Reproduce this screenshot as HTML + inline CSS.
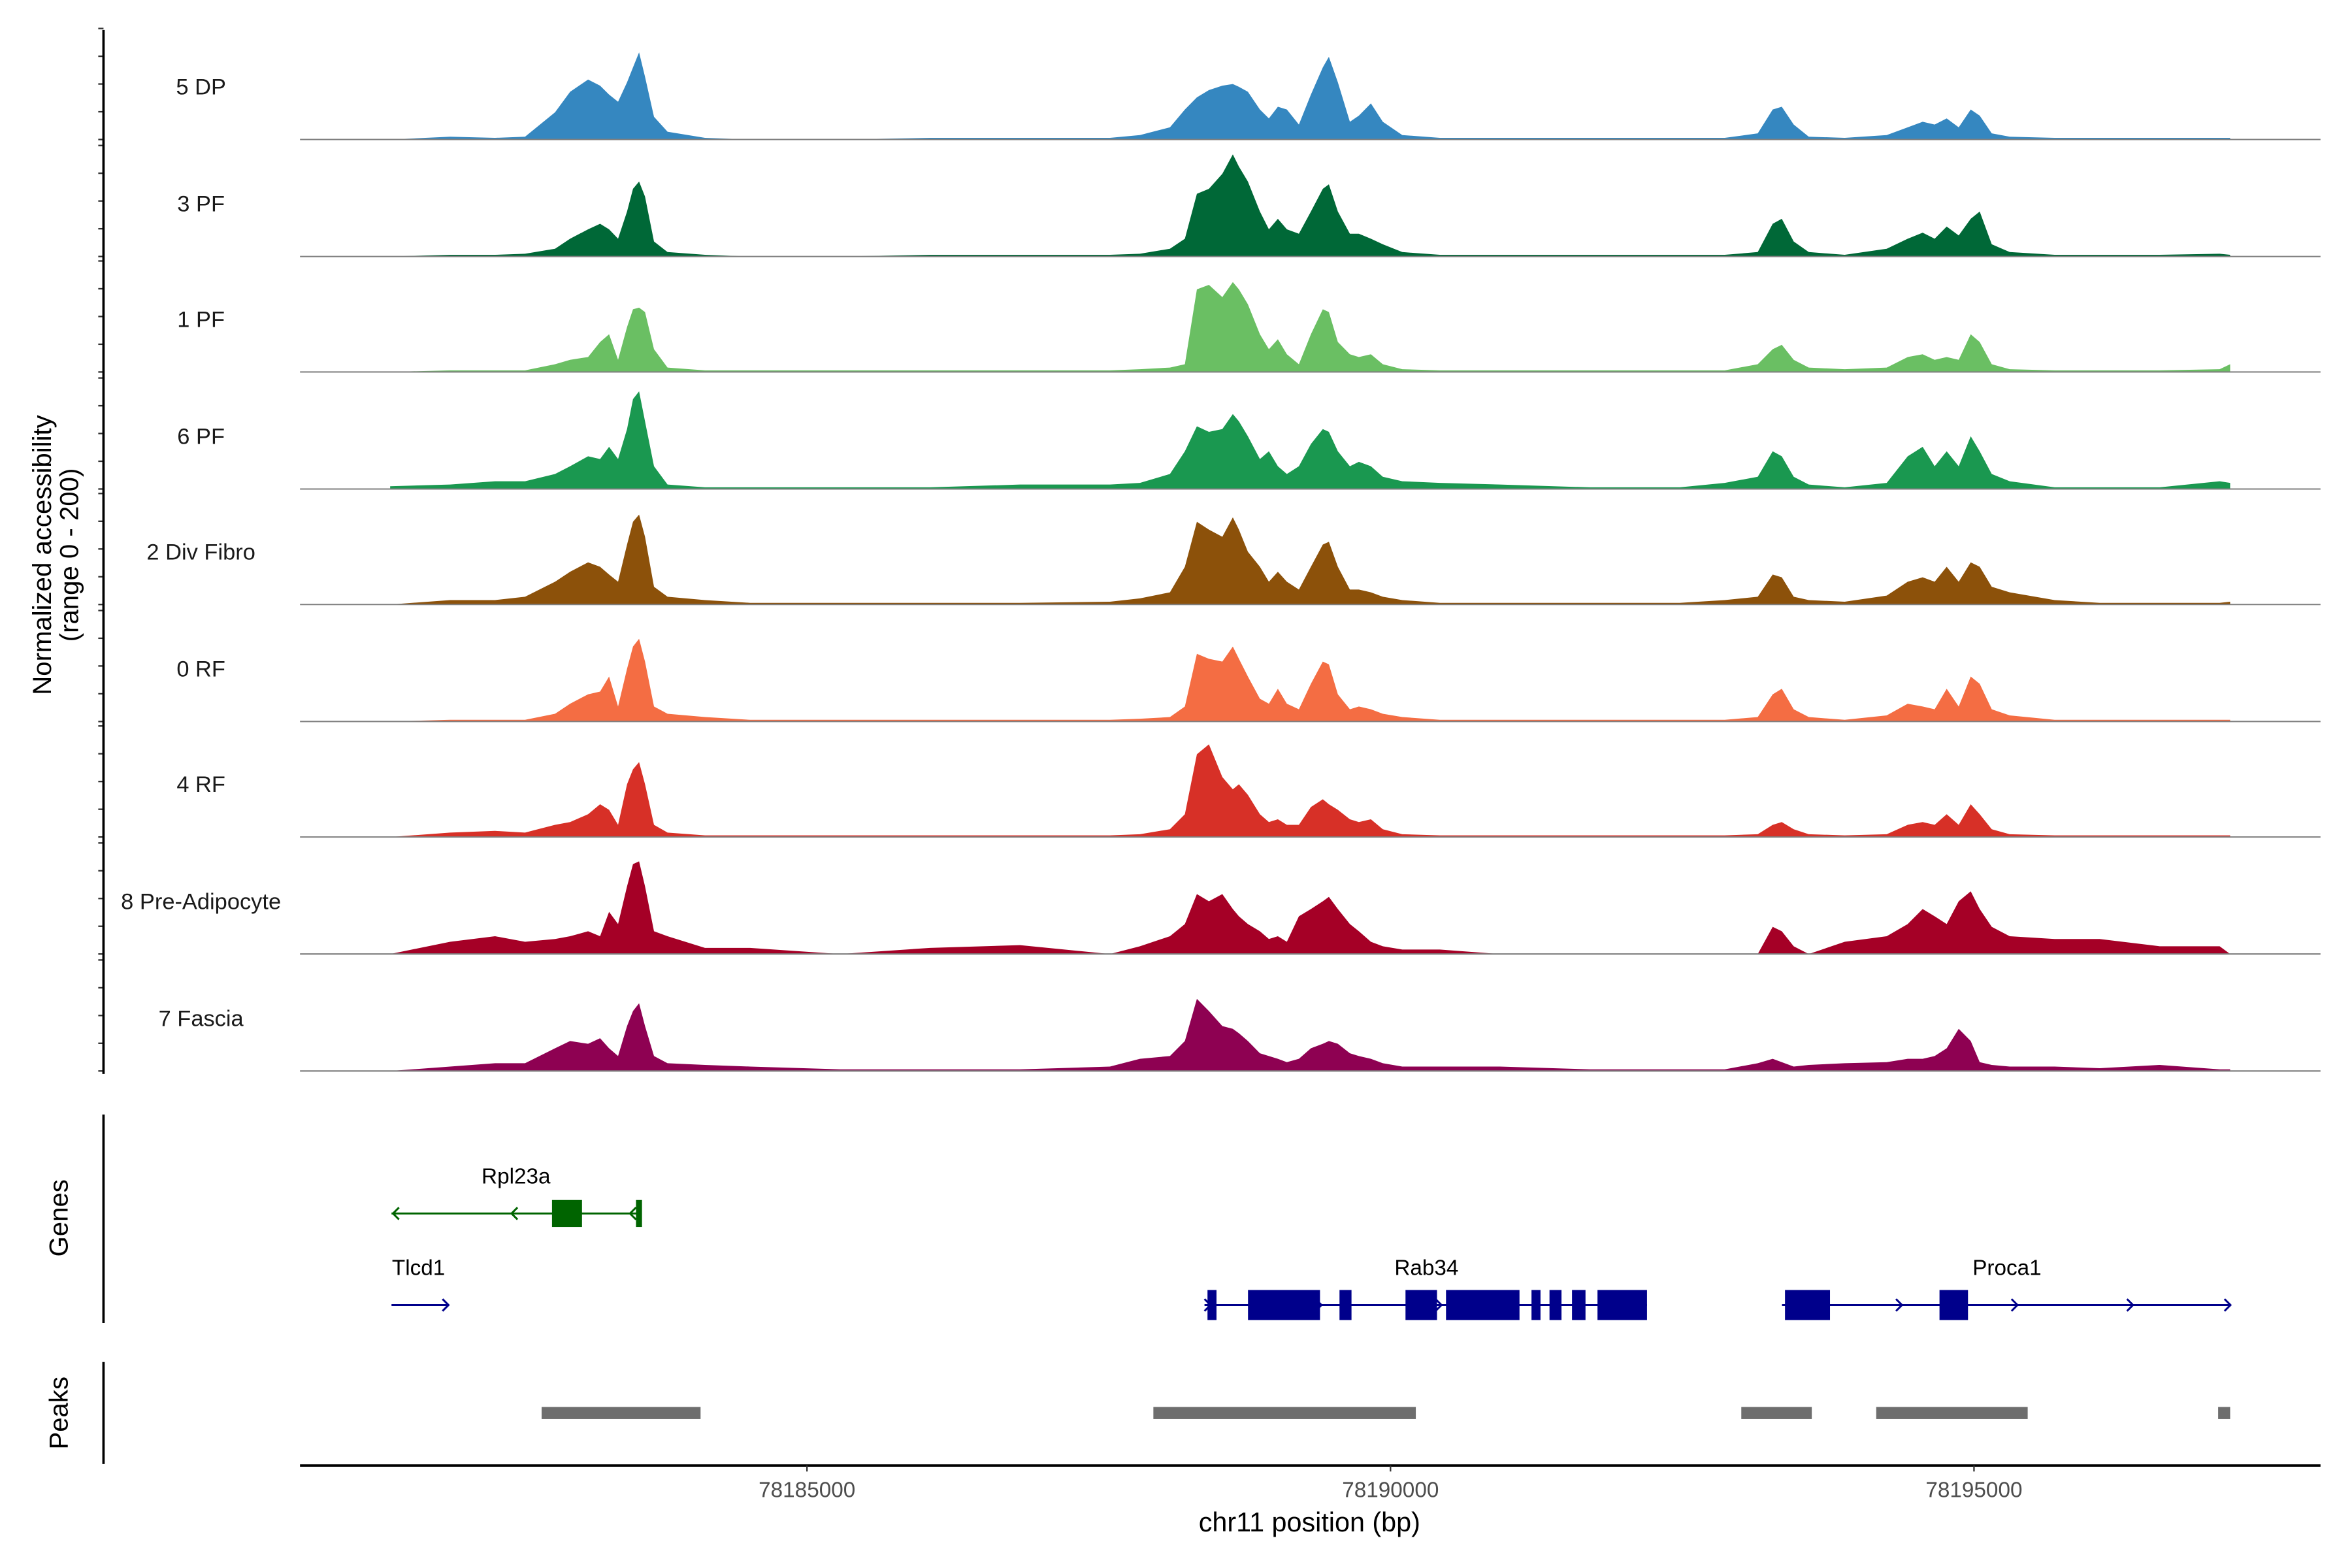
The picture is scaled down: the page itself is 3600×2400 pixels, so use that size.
<!DOCTYPE html>
<html><head><meta charset="utf-8"><style>
html,body{margin:0;padding:0;background:#fff;}
svg{display:block;font-family:"Liberation Sans",Arial,sans-serif;}
</style></head><body>
<svg id="chart" width="3600" height="2400" viewBox="0 0 1568 1045.33" preserveAspectRatio="none" xmlns="http://www.w3.org/2000/svg">
<rect x="0" y="0" width="1568" height="1046" fill="#fff"/>
<g id="tracks"></g>
<g id="genes"></g>
<g id="peaks"></g>
<g id="axes"></g>
</svg>
<script>
const positions=[78181428,78181942,78182327,78182584,78182841,78182970,78183124,78183227,78183304,78183381,
78183458,78183509,78183561,78183612,78183689,78183805,78184126,78184512,78185283,78186054,
78186825,78187596,78187853,78188110,78188238,78188341,78188444,78188559,78188649,78188701,
78188778,78188881,78188958,78189035,78189112,78189215,78189318,78189420,78189472,78189549,
78189652,78189729,78189832,78189934,78190101,78190423,78190937,78191708,78192479,78192864,
78193147,78193275,78193353,78193455,78193584,78193892,78194252,78194432,78194560,78194663,
78194766,78194869,78194972,78195049,78195152,78195306,78195691,78196077,78196591,78197105,78197195];
const trackNames=["5 DP","3 PF","1 PF","6 PF","2 Div Fibro","0 RF","4 RF","8 Pre-Adipocyte","7 Fascia"];
const trackColors=["#3587c0","#006837","#6abf63","#1a9850","#8c510a","#f46d43","#d73027","#a50026","#8e0152"];
const vals5DP=[0,5,3,5,49,86,108,97,81,68,103,130,157,113,41,14,3,0,0,3,3,3,8,22,54,76,89,97,100,95,86,54,38,59,54,27,81,130,149,103,32,43,65,32,8,3,3,3,3,3,11,54,59,27,5,3,8,22,32,27,38,22,54,43,11,5,3,3,3,3,3];
const vals3PF=[0,3,3,5,14,32,49,59,49,32,81,122,135,108,27,8,3,0,0,3,3,3,5,14,32,113,122,149,184,162,135,81,49,68,49,41,81,122,130,81,41,41,32,22,8,3,3,3,3,3,8,59,68,27,8,3,14,32,43,32,54,38,68,81,22,8,3,3,3,5,3];
const vals1PF=[0,3,3,3,14,22,27,54,68,22,81,113,116,108,41,8,3,3,3,3,3,3,5,8,14,149,157,135,162,149,122,68,41,59,32,14,68,113,108,54,32,27,32,14,5,3,3,3,3,3,14,41,49,22,8,5,8,27,32,22,27,22,68,54,14,5,3,3,3,5,14];
const vals6PF=[5,8,14,14,27,41,59,54,76,54,108,162,176,122,41,8,3,3,3,3,8,8,11,27,68,113,103,108,135,122,95,54,68,41,27,41,81,108,103,68,41,49,41,22,14,11,8,3,3,11,22,68,59,22,8,3,11,59,76,41,68,41,95,68,27,14,3,3,3,14,11];
const vals2Div=[0,8,8,14,41,59,76,68,54,41,108,149,162,122,32,14,8,3,3,3,3,5,11,22,68,149,135,122,157,135,95,68,41,59,41,27,68,108,113,68,27,27,22,14,8,3,3,3,3,8,14,54,49,14,8,5,16,41,49,41,68,41,76,68,32,22,8,3,3,3,5];
const vals0RF=[0,3,3,3,14,32,49,54,81,27,95,135,149,108,27,14,8,3,3,3,3,3,5,8,27,122,113,108,135,113,81,41,32,59,32,22,68,108,103,49,22,27,22,14,8,3,3,3,3,3,8,49,59,22,8,3,11,32,27,22,59,27,81,68,22,11,3,3,3,3,3];
const vals4RF=[0,8,11,8,22,27,41,59,49,22,95,122,135,95,22,8,3,3,3,3,3,3,5,14,41,149,167,108,86,95,76,41,27,32,22,22,54,68,59,49,32,27,32,14,5,3,3,3,3,3,5,22,27,14,5,3,5,22,27,22,41,22,59,41,14,5,3,3,3,3,3];
const vals8PreAd=[0,22,32,22,27,32,41,32,76,54,122,162,167,122,41,32,11,11,0,11,16,0,14,32,54,108,95,108,81,68,54,41,27,32,22,68,81,95,103,81,54,41,22,14,8,8,0,0,0,0,0,49,41,14,0,22,32,54,81,68,54,95,113,81,49,32,27,27,14,14,0];
const vals7Fascia=[0,8,14,14,41,54,49,59,41,27,81,108,122,81,27,14,11,8,3,3,3,8,22,27,54,130,108,81,76,68,54,32,27,22,16,22,41,49,54,49,32,27,22,14,8,8,8,3,3,3,14,22,16,8,11,14,16,22,22,27,41,76,54,16,11,8,8,5,11,3,3];
const trackValues=[vals5DP,vals3PF,vals1PF,vals6PF,vals2Div,vals0RF,vals4RF,vals8PreAd,vals7Fascia];
const xTicks=[78185000,78190000,78195000];
const yTicks=[0,50,100,150,200];
const peakStarts=[78182726,78187968,78193006,78194162,78197092];
const peakEnds=[78184088,78190217,78193610,78195460,78197195];

const NS="http://www.w3.org/2000/svg";
const X0=538, BP0=78185000, PXBP=0.0778;
function xs(bp){return X0+(bp-BP0)*PXBP;}
const baselines=[93,171,248,326,403,481,558,636,714];
const TRACK_H=74;
function ys(v,base){return base-v/200*TRACK_H;}
function mk(tag,attrs,parent){const e=document.createElementNS(NS,tag);for(const k in attrs)e.setAttribute(k,attrs[k]);parent.appendChild(e);return e;}

const tracksG=document.getElementById('tracks');
const axesG=document.getElementById('axes');
trackValues.forEach((vals,i)=>{
  const base=baselines[i];
  const g=mk('g',{},tracksG);
  
  
  let d='M'+xs(positions[0]).toFixed(2)+','+base;
  vals.forEach((v,j)=>{d+=' L'+xs(positions[j]).toFixed(2)+','+ys(v,base).toFixed(2);});
  d+=' L'+xs(positions[positions.length-1]).toFixed(2)+','+base+' Z';
  const p=mk('path',{d:d,fill:trackColors[i],stroke:'none'},g);
  
  
  const bl=mk('line',{x1:200,x2:1547,y1:base,y2:base,stroke:'#7f7f7f','stroke-width':0.9},g);
  
  
  const t=mk('text',{x:134,y:base-30,'text-anchor':'middle','font-size':'15',fill:'#1a1a1a'},g);
  t.textContent=trackNames[i];
  
  
  yTicks.forEach(tv=>{
    const tk=mk('line',{x1:65.5,x2:69,y1:ys(tv,base),y2:ys(tv,base),stroke:'#333','stroke-width':1},axesG);
    
    
  });
});
[[20,716],[743,882],[908,976]].forEach(r=>{
  const l=mk('line',{x1:69,x2:69,y1:r[0],y2:r[1],stroke:'#000','stroke-width':1.6},axesG);
  
  
});
const yt=mk('text',{transform:'translate(34,370) rotate(-90)','text-anchor':'middle','font-size':'17.5',fill:'#000'},axesG);


const ts1=mk('tspan',{x:0,dy:0},yt);ts1.textContent='Normalized accessibility';
const ts2=mk('tspan',{x:0,dy:18},yt);ts2.textContent='(range 0 - 200)';
const gt=mk('text',{transform:'translate(45,812) rotate(-90)','text-anchor':'middle','font-size':'17.5',fill:'#000'},axesG);
gt.textContent='Genes';


const pt=mk('text',{transform:'translate(45,942) rotate(-90)','text-anchor':'middle','font-size':'17.5',fill:'#000'},axesG);
pt.textContent='Peaks';


const xl=mk('line',{x1:200,x2:1547,y1:977,y2:977,stroke:'#000','stroke-width':1.6},axesG);


xTicks.forEach(tv=>{
  const x=xs(tv);
  const tk=mk('line',{x1:x,x2:x,y1:977,y2:981,stroke:'#333','stroke-width':1},axesG);
  
  
  const tl=mk('text',{x:x,y:998,'text-anchor':'middle','font-size':'14.5',fill:'#4d4d4d'},axesG);
  tl.textContent=String(tv);
  
  
});
const xt=mk('text',{x:873,y:1021,'text-anchor':'middle','font-size':'18',fill:'#000'},axesG);
xt.textContent='chr11 position (bp)';


const peaksG=document.getElementById('peaks');
peakStarts.forEach((s,i)=>{
  const r=mk('rect',{x:xs(s),y:938,width:Math.max(xs(peakEnds[i])-xs(s),3),height:8,fill:'#6e6e6e'},peaksG);
  
  
});
const genesG=document.getElementById('genes');
function gene(name,color,y,x1,x2,exons,arrows,dir,lx){
  const g=mk('g',{},genesG);
  
  
  mk('line',{x1:x1,x2:x2,y1:y,y2:y,stroke:color,'stroke-width':1.3},g);
  exons.forEach(e=>{mk('rect',{x:e[0],y:y-e[2],width:e[1]-e[0],height:2*e[2],fill:color},g);});
  arrows.forEach(a=>{
    const d=dir>0?`M${a-4},${y-4} L${a},${y} L${a-4},${y+4}`:`M${a+4},${y-4} L${a},${y} L${a+4},${y+4}`;
    mk('path',{d:d,fill:'none',stroke:color,'stroke-width':1.3},g);
  });
  const t=mk('text',{x:lx,y:y-20,'text-anchor':'middle','font-size':'14.5',fill:'#000'},g);
  t.textContent=name;
}
gene('Rpl23a','#006400',809,261,427,[[368,388,9],[424,428,9]],[262,341,420],-1,344);
gene('Tlcd1','#00008b',870,261,299,[],[299],1,279);
gene('Rab34','#00008b',870,803,1098,[[805,811,10],[832,880,10],[893,901,10],[937,958,10],[964,1013,10],[1021,1027,10],[1033,1041,10],[1048,1057,10],[1065,1098,10]],[807,881,961],1,951);
gene('Proca1','#00008b',870,1188,1487,[[1190,1220,10],[1293,1312,10]],[1268,1345,1422,1487],1,1338);
</script>
</body></html>
